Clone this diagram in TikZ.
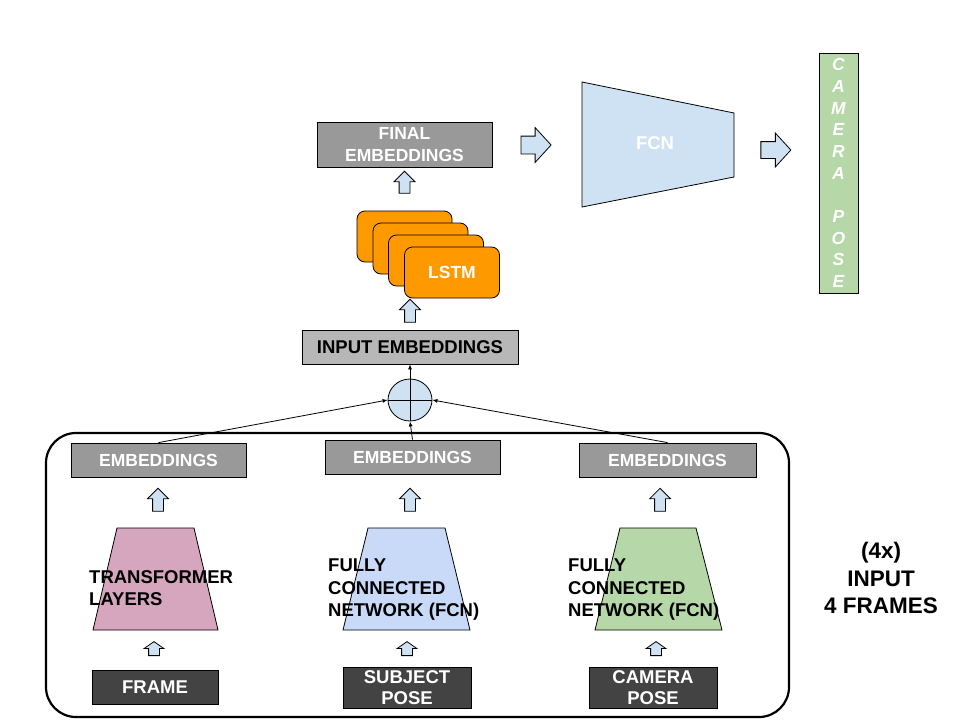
\documentclass[tikz,border=0pt]{standalone}
\usepackage{fontspec}
\setmainfont{Liberation Sans}
\usetikzlibrary{shapes.arrows,shapes.geometric,arrows.meta}
\definecolor{arrowblue}{HTML}{CFE2F3}
\definecolor{fcnblue}{HTML}{C9DAF8}
\definecolor{trpink}{HTML}{D5A6BD}
\definecolor{posegreen}{HTML}{B6D7A8}
\definecolor{lstmorange}{HTML}{FF9900}
\definecolor{embgray}{HTML}{999999}
\definecolor{inpgray}{HTML}{B7B7B7}
\definecolor{darkbox}{HTML}{434343}
\tikzset{
  >={Latex[length=5pt,width=4pt]},
}
\newcommand{\fs}[2]{\fontsize{#1}{#2}\selectfont\bfseries}
\tikzstyle{embbox}=[draw=black,line width=0.8pt,fill=embgray,text=white,inner sep=0pt,
  minimum width=175pt,minimum height=34pt,align=center,font=\fs{17.5}{22}]
\tikzstyle{srcbox}=[embbox,fill=darkbox,minimum width=126pt,font=\fs{18.5}{21}]
\tikzstyle{uparrow}=[single arrow,draw=black,line width=0.8pt,fill=arrowblue,
  inner xsep=5pt,inner ysep=0pt,shape border rotate=90,minimum width=20pt,minimum height=23pt,
  single arrow head extend=5pt]
\tikzstyle{smallarrow}=[uparrow,minimum width=19pt,minimum height=14pt,
  single arrow head extend=4.5pt,single arrow tip angle=110]
\tikzstyle{rightarrow}=[uparrow,shape border rotate=0,inner xsep=0pt,inner ysep=8.5pt,
  minimum width=34pt,minimum height=30pt,single arrow head extend=8.5pt,single arrow tip angle=95]
\tikzstyle{lstmbox}=[draw=black,line width=0.8pt,fill=lstmorange,rounded corners=8pt,
  minimum width=95pt,minimum height=51pt,inner sep=0pt,text=white,font=\fs{17.5}{18}]
\tikzstyle{netlabel}=[anchor=west,align=left,inner sep=0pt,font=\fs{18.5}{22.5}]

\begin{document}
\begin{tikzpicture}[x=1pt,y=-1pt]
  \useasboundingbox (0,0) rectangle (960,720);

  % top row
  \node[embbox,minimum height=45pt] (final) at (404.5,144.5) {FINAL\\EMBEDDINGS};
  \node[rightarrow] (toFcn) at (532,145) {};
  \draw[line width=0.8pt,fill=arrowblue] (582,82) -- (734,113) -- (734,177) -- (582,207) -- cycle;
  \node[text=white,font=\fs{18.5}{18}] (fcn) at (655,143) {FCN};
  \node[rightarrow,inner ysep=8pt,minimum width=33pt] (toPose) at (772,150) {};
  \node[draw=black,line width=0.8pt,fill=posegreen,minimum width=39pt,minimum height=240pt,
    inner sep=0pt,align=center,text=white,font=\fs{17.5}{21.7}\itshape]
    (campose) at (838.5,173) {C\\A\\M\\E\\R\\A\\\mbox{}\\P\\O\\S\\E};

  % lstm stack
  \node[uparrow,minimum width=19pt,minimum height=22pt] (upFinal) at (404.5,185) {};
  \foreach \i/\dx/\dy in {1/0/0,2/16/12,3/31.5/24,4/47.5/36}
    \node[lstmbox] (lstm\i) at (404.5+\dx,236.5+\dy) {};
  \node[text=white,font=\fs{17.5}{18}] at (lstm4) {LSTM};
  \node[uparrow] (upLstm) at (410,313.5) {};
  \node[embbox,fill=inpgray,text=black,minimum width=216pt,font=\fs{18.5}{18}] (inp) at (410,347) {INPUT EMBEDDINGS};

  % sum
  \node[ellipse,draw=black,line width=0.8pt,fill=arrowblue,minimum width=44pt,minimum height=42pt,
    inner sep=0pt] (sum) at (410,400) {};
  \draw[line width=0.8pt] (sum.north) -- (sum.south) (sum.west) -- (sum.east);

  % input block
  \draw[line width=2.2pt,rounded corners=30pt] (46,433) rectangle (789,717);
  \node[embbox] (emb1) at (158.5,460) {EMBEDDINGS};
  \node[embbox] (emb2) at (412.5,457) {EMBEDDINGS};
  \node[embbox,minimum width=177pt] (emb3) at (667.5,460) {EMBEDDINGS};
  \draw[->,line width=0.8pt] (emb1.north) -- (sum.west);
  \draw[->,line width=0.8pt] (emb3.north) -- (sum.east);
  \draw[->,line width=0.8pt] (emb2.north) -- (sum.south);
  \draw[->,line width=0.8pt] (sum.north) -- (inp.south);

  \node[uparrow] (up1) at (158,502.5) {};
  \node[uparrow] (up2) at (410,502.5) {};
  \node[uparrow] (up3) at (660,502.5) {};

  \draw[line width=0.8pt,fill=trpink] (93,630) -- (218,630) -- (194,528) -- (117,528) -- cycle;
  \draw[line width=0.8pt,fill=fcnblue] (343,630) -- (470,630) -- (445,528) -- (368,528) -- cycle;
  \draw[line width=0.8pt,fill=posegreen] (595,630) -- (722,630) -- (696,528) -- (620,528) -- cycle;
  \node[netlabel] (tr) at (89,588) {TRANSFORMER\\LAYERS};
  \node[netlabel] (fc1) at (328,590) {FULLY\\CONNECTED\\NETWORK (FCN)};
  \node[netlabel] (fc2) at (568,590) {FULLY\\CONNECTED\\NETWORK (FCN)};

  \node[smallarrow] (sa1) at (154,650.5) {};
  \node[smallarrow] (sa2) at (407,650.5) {};
  \node[smallarrow] (sa3) at (656,650.5) {};

  \node[srcbox] (frame) at (155,687) {FRAME};
  \node[srcbox,minimum width=128pt,minimum height=41pt] (subj) at (407,687.5) {SUBJECT\\POSE};
  \node[srcbox,minimum width=128pt,minimum height=41pt] (cam) at (653,687.5) {CAMERA\\POSE};

  \node[align=center,font=\fs{22.5}{27.5}] (note) at (881,578) {(4x)\\INPUT\\4 FRAMES};
\end{tikzpicture}
\end{document}
